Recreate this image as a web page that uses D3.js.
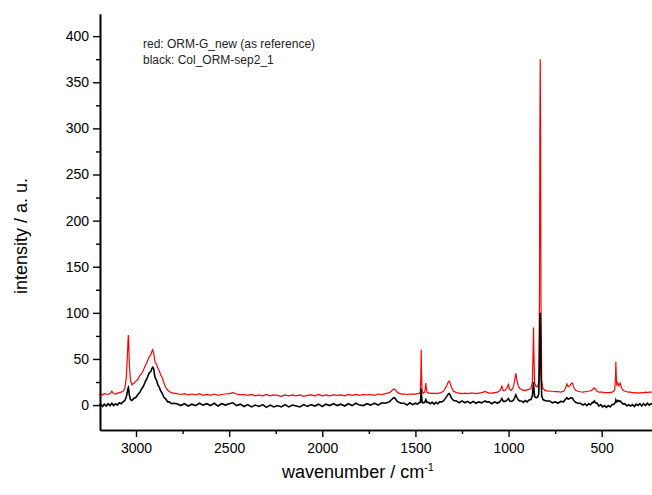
<!DOCTYPE html>
<html>
<head>
<meta charset="utf-8">
<script src="https://cdn.jsdelivr.net/npm/d3@7"></script>
<style>
  body { margin: 0; background: #fff; }
  text { font-family: Arial, "Liberation Sans", sans-serif; }
</style>
</head>
<body>
<div id="chart"></div>
<script>
// wavenumber grid (cm-1), shared by both spectra
var wavenumbers = [
  3200,3190,3180,3170,3160,3150,3140,3130,3120,3110,3100,3090,3080,3070,
  3060,3052,3046,3043,3041,3039,3036,3030,3022,3010,3000,2990,2980,2970,2960,2950,2940,2930,2920,2915,2910,2905,2898,2890,2882,2875,2868,2860,2850,2840,2830,2820,2810,2800,
  2780,2760,2740,2720,2700,2680,2660,2640,2620,2600,2580,2560,2540,2520,2500,2480,2460,2440,2420,2400,2380,2360,2340,2320,2300,2280,2260,2240,2220,2200,2180,2160,2140,2120,2100,2080,2060,2040,2020,2000,1980,1960,1940,1920,1900,1880,1860,1840,1820,1800,1780,1760,1740,1720,1700,1680,
  1660,1640,1630,1620,1614,1608,1600,1590,1575,1560,1545,1530,1515,1500,1490,1480,1474,1471,1469,1467,1464,1458,1450,1446,1444,1442,1438,1430,1420,1410,1400,1390,1380,1370,1360,1350,1340,1330,1324,1319,1314,1306,1295,1280,1265,1250,1235,1220,1205,1190,1175,1160,1145,1135,1126,1118,1105,1090,1075,1060,1045,1036,1028,1018,1008,1001,994,985,975,966,961,956,948,940,930,920,910,900,890,880,872,868,866,864,860,852,845,838,834,832,830,828,826,822,815,805,795,780,765,750,735,720,705,695,687,680,672,665,657,650,640,628,615,600,590,580,570,560,550,545,539,533,525,515,505,495,485,475,465,455,445,435,430,426,424,422,419,414,408,401,395,385,375,365,355,345,335,325,315,305,295,285,275,265,255,245,235,225
];

// red: ORM-G_new (reference)
var redValues = [
  11.5,12,11,12.5,12,11.5,12.5,15,12.5,12,13,13.5,14,15,
  18,30,55,70,76,68,45,27,22,24,26,28,32,34,38,43,47,52,55,58,60,56,47,44,40,37,33,30,24,19,16,14.5,13.5,13,
  12.5,11.5,12.5,11,12,11,12.5,10.5,11.5,10.5,12,10.5,11.5,12,12.5,13.5,12,11,11.5,10.5,11.5,10,11,10,11.5,10,11,10.5,9.5,11,10,11,10,11,9.5,10.5,11,10,11.5,10,11,10,11,10.5,11,10,11.5,10.5,11.5,10.5,11.5,11,11.5,10.5,12,11.5,
  12.5,13.5,15,17,17.5,16.5,14.5,13,12,12,11.5,12,12,12,12.5,12.5,14,30,60,32,15,13,14,20,24,19,14,13,13,12.5,13,12.5,13,13,14,15,18,22,25,26,24,19,15,13.5,13,12.5,13,12.5,13,13,12.5,13,13.5,14,15,14,13,13,13.5,14,16,20.5,15.5,16,19,22.5,17,16,19,28,34.5,28,21,18,17,16,16,16.5,17,18,25,60,84,55,24,20,20,25,120,300,375,290,110,26,18,16,15.5,15,15,14.5,14.5,14,15,18,23,20,21,23,24,19,16,15,14.5,14,14.5,15,15,15.5,16.5,18,18.5,17,15,14,14,14,13.5,13.5,13.5,13.5,14,15,17,30,47,32,22,24,21,24,19,16,15,14.5,14,14,13.5,13.5,13,13.5,13,13.5,13.5,14,13.5,14,14,14
];

// black: Col_ORM-sep2_1
var blackValues = [
  -0.5,1,-1.5,1,-1,1.5,-0.5,2,-0.5,1.5,0,2.5,1.5,3.5,
  5,9,15,18,19,17,11,6,5,7.5,8.5,11.5,13.5,17.5,20.5,25.5,29.5,34.5,36.5,39.5,41,39,30,27,21.5,19.5,15.5,13,8.5,6.5,3.5,3.5,1.5,2,
  1.5,-0.5,1.5,-1,1,-0.5,2,0,1.5,-0.5,2,-1,1.5,0,1.5,2.5,-0.5,1,-1.5,0.5,-2,0,-1.5,0.5,-2.5,0,-2,-0.5,-2,0.5,-2,0,-1,-2,0.5,-1.5,0.5,-1,1,-1.5,1,-0.5,1.5,-0.5,1,-1,1.5,-0.5,2,0,-0.5,1.5,0,2,0,2.5,
  2,3.5,5.5,7.5,8,7,4.5,3,2,
  2,0,2.5,0.5,2,1,2.5,
  3,9,18,10,3,2.5,3,5,6,5,3,
  3,1.5,3,1,3,1.5,3.5,
  3.5,4.5,7,10,12,12.5,11,7.5,5,
  4.5,2.5,4.5,2.5,4,2,4,2,3.5,2.5,
  3.5,4.5,3.5,
  3.5,1.5,3.5,2,
  4,7,4,4,5.5,7,4.5,4,5,8.5,11,8.5,5.5,4.5,
  4.5,3,5,3.5,5.5,6,
  10,20,25,18,9,8,8.5,12,50,90,100,80,35,10,6,5,4.5,
  4.5,2.5,3.5,2,4,3.5,
  6,8,6.5,7,8,7.5,5,3,2,
  2,0,1.5,-0.5,1.5,0.5,3,2.5,4.5,2.5,2,-1,0.5,-2,-0.5,-2.5,-0.5,-2,0.5,
  1,2,3.5,5.5,4.5,3.5,5,4,4.5,
  3,1,1.5,-1,0.5,-1,0.5,-1.5,1,-0.5,1.5,-1,1.5,-0.5,2,0,1.5,0.5
];

var yMajorTicks = [0, 50, 100, 150, 200, 250, 300, 350, 400];
var yMinorTicks = [25, 75, 125, 175, 225, 275, 325, 375];
var xMajorTicks = [3000, 2500, 2000, 1500, 1000, 500];
var xMinorTicks = [2750, 2250, 1750, 1250, 750];

var legendLines = ["red: ORM-G_new (as reference)", "black: Col_ORM-sep2_1"];

var width = 652, height = 495;
var plotLeft = 100, plotBottom = 430, plotTop = 14;

var svg = d3.select("#chart").append("svg")
    .attr("width", width)
    .attr("height", height);

var x = d3.scaleLinear().domain([3193.3, 230]).range([plotLeft, 652]);
var y = d3.scaleLinear().domain([-27, 424]).range([plotBottom, plotTop]);

var redData = wavenumbers.map(function (w, i) { return [w, redValues[i]]; });
var blackData = wavenumbers.map(function (w, i) { return [w, blackValues[i]]; });

var line = d3.line()
    .x(function (d) { return x(d[0]); })
    .y(function (d) { return y(d[1]); });

svg.append("path")
    .datum(redData)
    .attr("fill", "none")
    .attr("stroke", "#ff0000")
    .attr("stroke-width", 1.2)
    .attr("d", line);

svg.append("path")
    .datum(blackData)
    .attr("fill", "none")
    .attr("stroke", "#000")
    .attr("stroke-width", 1.6)
    .attr("d", line);

// axes
svg.append("g")
    .attr("transform", "translate(0," + plotBottom + ")")
    .call(d3.axisBottom(x).tickValues(xMajorTicks).tickFormat(d3.format("d")).tickSize(7).tickPadding(6).tickSizeOuter(0));
svg.append("g")
    .attr("transform", "translate(0," + plotBottom + ")")
    .call(d3.axisBottom(x).tickValues(xMinorTicks).tickSize(4).tickFormat("").tickSizeOuter(0));

svg.append("g")
    .attr("transform", "translate(" + plotLeft + ",0)")
    .call(d3.axisLeft(y).tickValues(yMajorTicks).tickSize(7).tickPadding(4).tickSizeOuter(0));
svg.append("g")
    .attr("transform", "translate(" + plotLeft + ",0)")
    .call(d3.axisLeft(y).tickValues(yMinorTicks).tickSize(4).tickFormat("").tickSizeOuter(0));

svg.selectAll(".domain").attr("stroke", "#000").attr("stroke-width", 1.6);
svg.selectAll(".tick line").attr("stroke", "#000").attr("stroke-width", 1.4);
svg.selectAll(".tick text")
    .attr("font-family", "Arial, 'Liberation Sans', sans-serif")
    .attr("font-size", 14)
    .attr("fill", "#000");

// axis titles
var xTitle = svg.append("text")
    .attr("x", 358)
    .attr("y", 478)
    .attr("text-anchor", "middle")
    .attr("font-size", 18);
xTitle.append("tspan").text("wavenumber / cm");
xTitle.append("tspan").attr("dy", -7).attr("font-size", 11).text("-1");

svg.append("text")
    .attr("transform", "translate(27,236) rotate(-90)")
    .attr("text-anchor", "middle")
    .attr("font-size", 18)
    .text("intensity / a. u.");

// legend note
svg.selectAll(".legend")
    .data(legendLines)
    .enter().append("text")
    .attr("class", "legend")
    .attr("x", 143)
    .attr("y", function (d, i) { return 48 + i * 16; })
    .attr("font-size", 12)
    .attr("fill", "#222")
    .text(function (d) { return d; });
</script>
</body>
</html>
